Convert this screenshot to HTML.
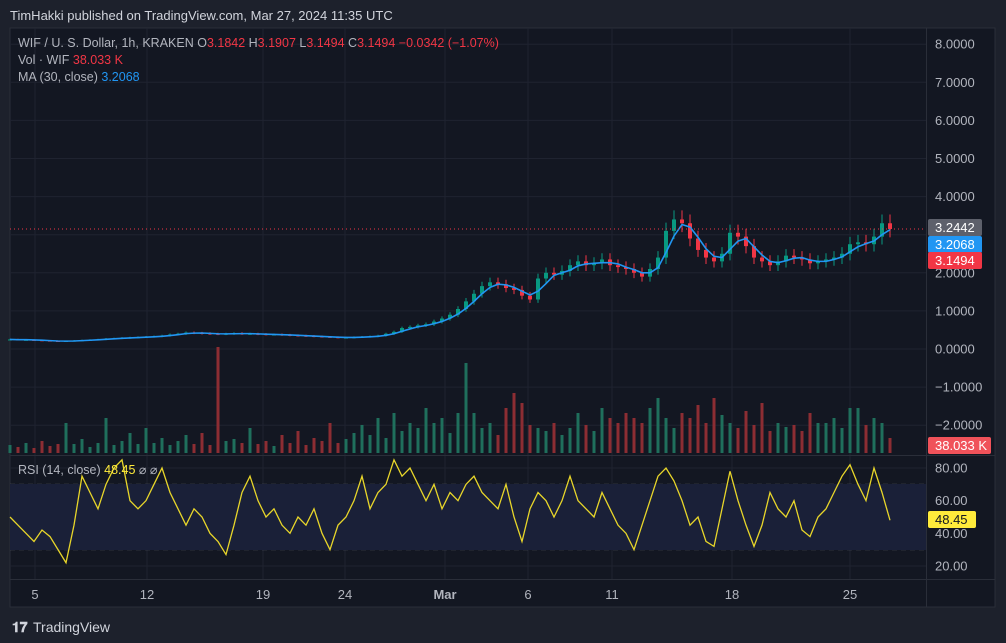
<!DOCTYPE html>
<html><head><meta charset="utf-8"><style>
body{margin:0;background:#1d212c;font-family:"Liberation Sans",sans-serif;}
svg{display:block}
text{font-family:"Liberation Sans",sans-serif}
</style></head><body>
<svg id="c" width="1006" height="643" viewBox="0 0 1006 643">
<rect x="0" y="0" width="1006" height="643" fill="#1d212c"/>
<text x="10" y="20" fill="#d1d4dc" font-size="13">TimHakki published on TradingView.com, Mar 27, 2024 11:35 UTC</text>
<rect x="10" y="28" width="985" height="579" fill="#131722" stroke="#2a2e39"/>
<g id="grid"></g>
<rect x="10" y="484" width="916" height="66" fill="#1a2038"/>
<g id="vol"></g>
<g id="candles"></g>
<g id="rsi"></g>
<g id="axes"></g>
<line x1="10" y1="455.5" x2="995" y2="455.5" stroke="#2a2e39"/>
<line x1="926.5" y1="28" x2="926.5" y2="607" stroke="#2a2e39"/>
<line x1="10" y1="579.5" x2="995" y2="579.5" stroke="#2a2e39"/>
<g font-size="12.5">
<text x="18" y="47" fill="#b2b5be">WIF / U. S. Dollar, 1h, KRAKEN  O<tspan fill="#f23645">3.1842</tspan>  H<tspan fill="#f23645">3.1907</tspan>  L<tspan fill="#f23645">3.1494</tspan>  C<tspan fill="#f23645">3.1494</tspan>  <tspan fill="#f23645">−0.0342 (−1.07%)</tspan></text>
<text x="18" y="64" fill="#b2b5be">Vol · WIF  <tspan fill="#f23645">38.033 K</tspan></text>
<text x="18" y="81" fill="#b2b5be">MA (30, close)  <tspan fill="#2196f3">3.2068</tspan></text>
<text x="18" y="474" fill="#b2b5be">RSI (14, close)  <tspan fill="#ffeb3b">48.45</tspan>  ⌀  ⌀</text>
</g>
<g>
<text x="12" y="632" fill="#d1d4dc" font-size="14" font-weight="bold">𝟏𝟕</text>
<text x="33" y="632" fill="#d1d4dc" font-size="14">TradingView</text>
</g>
</svg>
<script>
const closes=[0.25,0.24,0.24,0.23,0.22,0.21,0.20,0.21,0.22,0.23,0.24,0.25,0.27,0.28,0.29,0.30,0.31,0.32,0.33,0.35,0.38,0.40,0.43,0.42,0.41,0.40,0.39,0.40,0.41,0.40,0.40,0.39,0.38,0.38,0.37,0.36,0.35,0.34,0.33,0.32,0.31,0.30,0.30,0.31,0.32,0.33,0.35,0.40,0.45,0.55,0.58,0.62,0.65,0.72,0.80,0.90,1.05,1.25,1.45,1.65,1.75,1.70,1.60,1.55,1.40,1.30,1.85,2.00,1.95,2.05,2.20,2.30,2.20,2.25,2.35,2.20,2.15,2.10,2.00,1.90,2.10,2.40,3.10,3.40,3.30,2.90,2.60,2.40,2.30,2.50,3.05,2.95,2.70,2.40,2.30,2.20,2.30,2.45,2.40,2.35,2.25,2.30,2.35,2.40,2.50,2.75,2.80,2.75,2.95,3.30,3.15];
const volumes=[8,6,10,5,12,7,9,30,9,14,6,10,35,8,12,20,9,25,10,15,8,12,18,9,20,8,106,12,14,10,25,9,12,7,18,10,22,8,15,12,30,10,14,20,28,18,35,15,40,22,30,25,45,30,35,20,40,90,40,25,30,18,45,60,50,28,25,22,30,18,25,40,28,22,45,35,30,40,35,30,45,55,35,25,40,35,48,30,55,38,30,25,42,28,50,22,30,26,28,22,40,30,30,35,25,45,45,28,35,30,15];
const rsiVals=[50,45,40,35,42,38,30,22,45,75,65,55,70,80,85,60,55,60,70,80,65,55,45,55,50,40,35,27,45,65,75,60,50,55,45,40,50,45,55,40,30,45,50,60,75,55,65,70,85,75,80,70,60,70,55,65,60,70,75,65,60,55,70,50,35,55,65,60,50,60,75,60,55,50,65,55,45,40,30,45,60,75,80,72,60,45,50,35,32,55,78,60,45,32,45,65,55,50,60,42,38,50,55,65,75,82,70,60,80,65,48];
const priceTicks=[8,7,6,5,4,3,2,1,0,-1,-2];
const rsiTicks=[80,60,40,20];
const dateLabels=["5","12","19","24","Mar","6","11","18","25"];
const dateX=[35,147,263,345,445,528,612,732,850];
const NS="http://www.w3.org/2000/svg";
function mk(tag,attrs,parent){const e=document.createElementNS(NS,tag);for(const k in attrs)e.setAttribute(k,attrs[k]);parent.appendChild(e);return e;}
const xIdx=i=>10+i*(880/(closes.length-1));
const yP=v=>349-38.1*v;
const yR=r=>468+(80-r)*1.633;
const grid=document.getElementById('grid'),axes=document.getElementById('axes');
priceTicks.forEach(t=>{
 const l=mk('line',{x1:10,x2:926,y1:yP(t),y2:yP(t),stroke:'#1f2330'},grid);
 
 const tx=mk('text',{x:935,y:yP(t)+4.5,fill:'#b2b5be','font-size':13},axes);
 tx.textContent=(t<0?'−'+Math.abs(t).toFixed(4):t.toFixed(4));
 
});
rsiTicks.forEach(t=>{
 const l=mk('line',{x1:10,x2:926,y1:yR(t),y2:yR(t),stroke:'#1f2330'},grid);
 
 const tx=mk('text',{x:935,y:yR(t)+4.5,fill:'#b2b5be','font-size':13},axes);
 tx.textContent=t.toFixed(2);
 
});
dateLabels.forEach((s,i)=>{
 const x=dateX[i];
 const l=mk('line',{x1:x,x2:x,y1:28,y2:579,stroke:'#1f2330'},grid);
 
 const tx=mk('text',{x:x,y:599,fill:'#b2b5be','font-size':13,'text-anchor':'middle','font-weight':s==='Mar'?'bold':'normal'},axes);
 tx.textContent=s;
 
});
[70,50,30].forEach(t=>{
 const l=mk('line',{x1:10,x2:926,y1:yR(t),y2:yR(t),stroke:'#787b86','stroke-dasharray':'5,4'},grid);
 
});
const vg=document.getElementById('vol');
volumes.forEach((v,i)=>{
 const up=i===0||closes[i]>=closes[i-1];
 const r=mk('rect',{x:xIdx(i)-1.5,y:453-v,width:3,height:v,fill:up?'#1f6f5c':'#8c2d33'},vg);
 
});
const cg=document.getElementById('candles');
closes.forEach((c,i)=>{
 const o=i?closes[i-1]:c,up=c>=o,col=up?'#089981':'#f23645';
 const hi=Math.max(o,c)*1.07,lo=Math.min(o,c)*0.93;
 const w=mk('line',{x1:xIdx(i),x2:xIdx(i),y1:yP(hi),y2:yP(lo),stroke:col},cg);
 
 const b=mk('rect',{x:xIdx(i)-2,y:Math.min(yP(o),yP(c)),width:4,height:Math.max(1,Math.abs(yP(o)-yP(c))),fill:col},cg);
 
});
let pts=closes.map((c,i)=>{const s=closes.slice(Math.max(0,i-2),i+1);return xIdx(i)+','+yP(s.reduce((a,b)=>a+b,0)/s.length);}).join(' ');
const ma=mk('polyline',{points:pts,fill:'none',stroke:'#2196f3','stroke-width':1.6},cg);

const dl=mk('line',{x1:10,x2:926,y1:229,y2:229,stroke:'#f23645','stroke-dasharray':'1,3'},cg);

const rg=document.getElementById('rsi');
const rp=rsiVals.map((r,i)=>(10+i*(880/(rsiVals.length-1)))+','+yR(r)).join(' ');
const rl=mk('polyline',{points:rp,fill:'none',stroke:'#e8d62a','stroke-width':1.3},rg);

function badge(y,h,bg,fg,t,w,name){
 const r=mk('rect',{x:928,y:y,width:w,height:h,fill:bg,rx:2},axes);
 
 const tx=mk('text',{x:935,y:y+13,fill:fg,'font-size':13},axes);tx.textContent=t;
 
}
badge(219,17,'#5d606b','#fff','3.2442',54,'last-price-badge');
badge(236,17,'#2196f3','#fff','3.2068',54,'ma-badge');
badge(252,17,'#f23645','#fff','3.1494',54,'close-badge');
badge(437,17,'#f0525a','#fff','38.033 K',63,'volume-badge');
badge(511,17,'#ffeb3b','#131722','48.45',48,'rsi-badge');
</script>
</body></html>
